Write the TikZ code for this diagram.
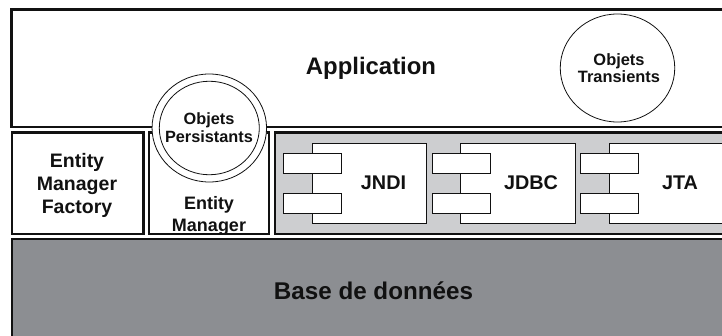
\documentclass[tikz,border=0pt]{standalone}
\usepackage{fontspec}
\setmainfont{Liberation Sans}
\definecolor{lightgrey}{HTML}{CDCED0}
\definecolor{darkgrey}{HTML}{8C8E92}
\definecolor{ink}{HTML}{111111}
\tikzset{
 layerbox/.style={draw=ink,line width=2.4pt,fill=white,inner sep=0pt,anchor=north west,outer sep=0pt},
 compbox/.style={draw=ink,line width=1pt,fill=white,inner sep=0pt,anchor=north west},
 portbox/.style={draw=ink,line width=1pt,fill=white,inner sep=0pt,anchor=north west,minimum width=57.5pt,minimum height=20pt},
 objcircle/.style={ellipse,draw=ink,fill=white,line width=.8pt,inner sep=0pt},
 lbl/.style={font=\bfseries,text=ink,align=center,inner sep=0pt},
}
\usetikzlibrary{shapes.geometric}
\begin{document}
\begin{tikzpicture}[x=1pt,y=-1pt]
\useasboundingbox (0,0) rectangle (722,336);
\clip (0,0) rectangle (722,336);
\fill[white] (0,0) rectangle (722,336);
\node[layerbox,minimum width=740pt,minimum height=117.5pt] (app) at (11.5,9.5) {};
\node[layerbox,minimum width=131.5pt,minimum height=101.5pt] (emf) at (12,132.5) {};
\node[layerbox,minimum width=120pt,minimum height=101.5pt] (em) at (149,132.5) {};
\node[layerbox,fill=lightgrey,minimum width=470pt,minimum height=101.5pt] (svc) at (275,132.5) {};
\node[layerbox,fill=darkgrey,minimum width=740pt,minimum height=120pt] (db) at (12,239) {};
% JNDI
\node[compbox,minimum width=114.6pt,minimum height=80pt] (jndi) at (311.7,143) {};
\node[portbox] (jndia) at (283,153.3) {};
\node[portbox] (jndib) at (283,193.3) {};
% JDBC
\node[compbox,minimum width=114.4pt,minimum height=80pt] (jdbc) at (460.3,143) {};
\node[portbox] (jdbca) at (432,153.3) {};
\node[portbox] (jdbcb) at (432,193.3) {};
% JTA
\node[compbox,minimum width=130pt,minimum height=80pt] (jta) at (609.3,143) {};
\node[portbox] (jtaa) at (580.3,153.3) {};
\node[portbox] (jtab) at (580.3,193.3) {};
% circles
\node[objcircle,minimum width=114.5pt,minimum height=108pt] (persO) at (209.3,128) {};
\node[objcircle,minimum width=100pt,minimum height=93.5pt] (persI) at (209.3,128) {};
\node[objcircle,minimum width=114.5pt,minimum height=108pt] (trans) at (617.5,68) {};
% labels
\node[lbl,font=\bfseries\fontsize{23.9}{26}\selectfont] (tapp) at (371,68.5) {Application};
\node[lbl,font=\bfseries\fontsize{19.5}{23}\selectfont] (temf) at (77,185) {Entity\\Manager\\Factory};
\node[lbl,font=\bfseries\fontsize{18}{21.5}\selectfont] (tem) at (209,216) {Entity\\Manager};
\node[lbl,font=\bfseries\fontsize{16.3}{17.7}\selectfont] (tpers) at (209,128) {Objets\\Persistants};
\node[lbl,font=\bfseries\fontsize{16.4}{17.5}\selectfont] (ttrans) at (619,68) {Objets\\Transients};
\node[lbl,font=\bfseries\fontsize{19.8}{22}\selectfont] (tjndi) at (383.5,183) {JNDI};
\node[lbl,font=\bfseries\fontsize{19.8}{22}\selectfont] (tjdbc) at (531,183) {JDBC};
\node[lbl,font=\bfseries\fontsize{19.8}{22}\selectfont] (tjta) at (680,183) {JTA};
\node[lbl,font=\bfseries\fontsize{24.2}{27}\selectfont] (tdb) at (373.5,291) {Base de données};
\end{tikzpicture}
\end{document}
